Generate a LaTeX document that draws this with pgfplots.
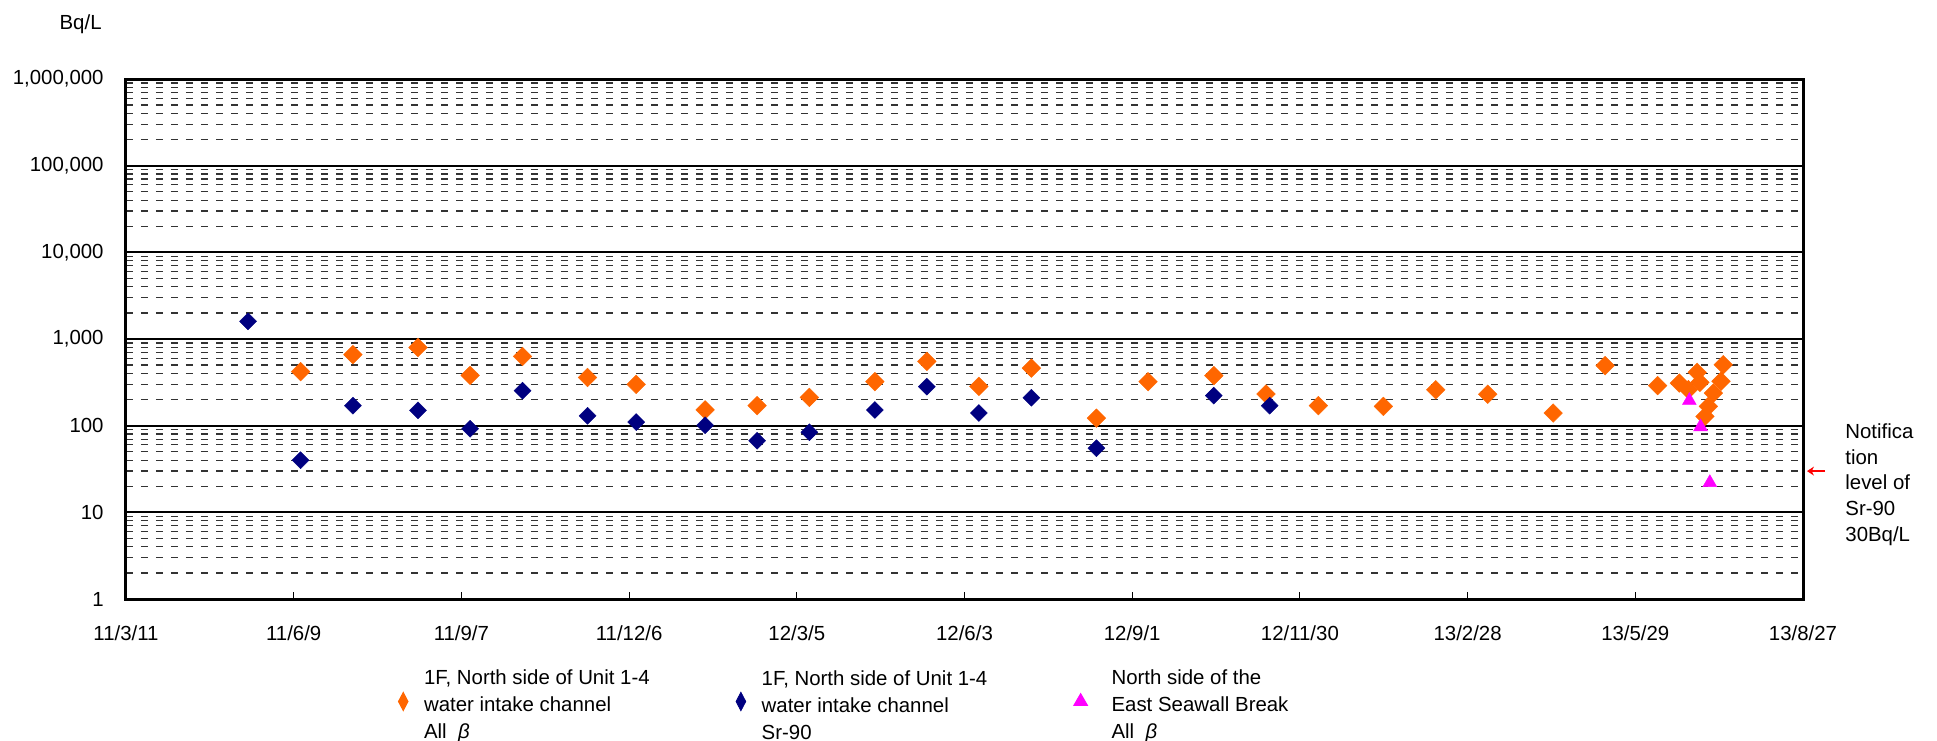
\documentclass[border=0pt]{standalone}
\usepackage{fontspec}
\setmainfont{Liberation Sans}
\usepackage{pgfplots}
\pgfplotsset{compat=1.18}
\usetikzlibrary{arrows.meta}
\definecolor{cor}{HTML}{FF6600}
\definecolor{cnavy}{HTML}{000080}
\definecolor{cmag}{HTML}{FF00FF}

\pgfplotstableread{
x y
93.7 420
121.8 660
156.7 800
184.7 380
212.8 630
247.7 360
273.8 300
310.8 152
338.7 170
366.7 212
401.9 322
429.8 552
457.7 284
485.9 462
520.8 122
548.5 322
583.8 378
611.8 232
639.9 170
674.8 167
702.9 259
730.8 231
765.9 140
793.8 492
822.0 290
833.6 310
838.5 260
843.2 413
844.7 316
847.4 128
849.2 167
851.9 238
856.0 325
857.2 505
}\allbeta

\pgfplotstableread{
x y
65.5 1600
93.7 40
121.8 170
156.7 150
184.7 92
212.8 253
247.7 130
273.8 110
310.8 101
338.7 67
366.7 84
401.9 152
429.8 282
457.7 140
485.9 210
520.8 55
583.8 222
613.8 170
}\srninety

\pgfplotstableread{
x y
839 195
845 97
850 22
}\seawall

\newcommand{\legtext}[1]{\raisebox{10pt}{\parbox[c]{140pt}{\fontsize{10.2}{13.5}\selectfont #1}}}

\begin{document}
\begin{tikzpicture}[font=\fontsize{10.2}{12.9}\selectfont]
\path[use as bounding box] (-63pt,-70.5pt) rectangle (905.5pt,299.5pt);
\begin{axis}[
  name=ax,
  at={(0pt,0pt)}, anchor=south west,
  width=838.5pt, height=260pt, scale only axis,
  xmin=0, xmax=900,
  ymode=log, ymin=1, ymax=1000000,
  xtick={0,90,...,900},
  xticklabels={11/3/11,11/6/9,11/9/7,11/12/6,12/3/5,12/6/3,12/9/1,12/11/30,13/2/28,13/5/29,13/8/27},
  ytick={1,10,100,1000,10000,100000,1000000},
  yticklabels={1,10,100,{1,000},{10,000},{100,000},{1,000,000}},
  minor ytick={2,3,4,5,6,7,8,9,20,30,40,50,60,70,80,90,200,300,400,500,600,700,800,900,2000,3000,4000,5000,6000,7000,8000,9000,20000,30000,40000,50000,60000,70000,80000,90000,200000,300000,400000,500000,600000,700000,800000,900000},
  /pgf/number format/assume math mode=true,
  tick align=inside,
  xtick pos=left, ytick pos=left,
  major tick length=3.5pt, minor tick length=0pt,
  tick style={black, line width=0.5pt},
  ymajorgrids, yminorgrids,
  major grid style={black, line width=1pt},
  minor grid style={black!80, line width=0.6pt, dash pattern=on 3.5pt off 4pt},
  axis line style={line width=1.5pt},
  xticklabel style={inner sep=0pt, anchor=north},
  xticklabel shift=13pt,
  yticklabel style={inner sep=0pt, anchor=east},
  yticklabel shift=11pt,
  legend style={at={(0.1622,-0.1971)}, anchor=west, draw=none, fill=none, inner sep=0pt,
    nodes={inner sep=0pt},
    /tikz/every odd column/.append style={column sep=8pt},
    /tikz/every even column/.append style={column sep=16pt}},
  legend columns=3,
]
\addplot[only marks, mark=square*, mark size=3.3pt, mark options={rotate=45, fill=cor, draw=cor, line width=0.2pt},
  legend image code/.code={\draw[mark=diamond*, mark size=4.6pt, mark options={xscale=0.7, fill=cor, draw=cor}] plot coordinates {(0pt,0pt)};}]
  table[x=x,y=y] {\allbeta};
\addlegendentry{\legtext{1F, North side of Unit 1-4\\water intake channel\\All~~\textit{β}}}
\addplot[only marks, mark=square*, mark size=3.0pt, mark options={rotate=45, fill=cnavy, draw=cnavy, line width=0.2pt},
  legend image code/.code={\draw[mark=diamond*, mark size=4.6pt, mark options={xscale=0.7, fill=cnavy, draw=cnavy}] plot coordinates {(0pt,0pt)};}]
  table[x=x,y=y] {\srninety};
\addlegendentry{\legtext{1F, North side of Unit 1-4\\water intake channel\\Sr-90}}
\addplot[only marks, mark=triangle*, mark size=4pt, mark options={fill=cmag, draw=cmag, line width=0.2pt},
  legend image code/.code={\draw[mark=triangle*, mark size=4pt, mark options={fill=cmag, draw=cmag}] plot coordinates {(0pt,0pt)};}]
  table[x=x,y=y] {\seawall};
\addlegendentry{\hspace*{4pt}\legtext{North side of the\\East Seawall Break\\All~~\textit{β}}}
\end{axis}
\node[anchor=east, inner sep=0pt] at ([shift={(-12pt,27.5pt)}]ax.north west) {Bq/L};
\node[anchor=west, inner sep=0pt, align=left, font=\fontsize{10.2}{12.85}\selectfont] at ([shift={(21pt,57.25pt)}]ax.south east) {Notifica\\tion\\level of\\Sr-90\\30Bq/L};
\draw[red, line width=0.7pt, -{Stealth[length=3.5pt,width=4.5pt]}] ([shift={(11pt,63.95pt)}]ax.south east) -- ([shift={(2pt,63.95pt)}]ax.south east);
\end{tikzpicture}
\end{document}
